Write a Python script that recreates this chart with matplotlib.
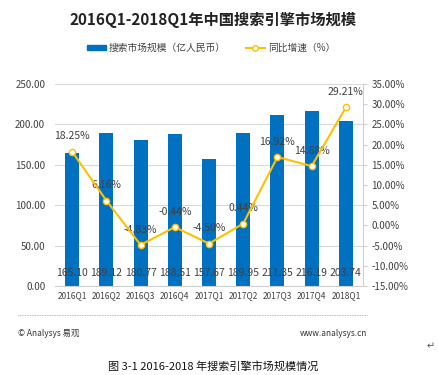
import numpy as np
import matplotlib.pyplot as plt
from matplotlib.lines import Line2D
from matplotlib.patches import Patch

plt.rcParams['font.family'] = ['Noto Sans CJK SC', 'DejaVu Sans']

quarters = ['2016Q1', '2016Q2', '2016Q3', '2016Q4', '2017Q1',
            '2017Q2', '2017Q3', '2017Q4', '2018Q1']
market = [165.10, 189.12, 180.77, 188.51, 157.67, 189.95, 211.35, 216.19, 203.74]
growth = [18.25, 6.16, -4.83, -0.44, -4.50, 0.44, 16.92, 14.68, 29.21]

W, H = 439, 375
fig = plt.figure(figsize=(W / 100, H / 100), dpi=100)
ax = fig.add_axes([55 / W, 1 - 286 / H, 308 / W, 202 / H])
ax2 = ax.twinx()

blue = '#0070C0'
yellow = '#FFC000'
txt = '#404040'

x = np.arange(len(quarters))
ax.bar(x, market, width=0.41, color=blue, zorder=2)
ax.set_xlim(-0.5, len(quarters) - 0.5)
ax.set_ylim(0, 250)
ax.set_yticks(np.arange(0, 251, 50))
ax.set_yticklabels([f'{v:.2f}' for v in np.arange(0, 251, 50)], fontsize=7, color=txt)
ax.set_xticks(x)
ax.set_xticklabels(quarters, fontsize=6, color=txt)
ax.grid(axis='y', color='#d9d9d9', lw=0.8, zorder=0)
ax.tick_params(axis='both', length=0, pad=4)
ax.tick_params(axis='y', pad=7)
for s in ['top', 'left', 'right']:
    ax.spines[s].set_visible(False)
ax.spines['bottom'].set_color('#d0d0d0')
for xi, v in zip(x, market):
    ax.text(xi, 16, f'{v:.2f}', ha='center', va='center', fontsize=7.5, color=txt, zorder=3)

ax2.plot(x, growth, color=yellow, lw=1.5, marker='o', ms=4.5,
         mfc='white', mec=yellow, mew=1, zorder=4)
ax2.set_ylim(-15, 35)
ticks2 = np.arange(-15, 36, 5)
ax2.set_yticks(ticks2)
ax2.set_yticklabels([f'{v:.2f}%' for v in ticks2], fontsize=7, color=txt)
ax2.tick_params(axis='y', length=3, color='#d0d0d0', pad=3)
for s in ['top', 'left', 'bottom']:
    ax2.spines[s].set_visible(False)
ax2.spines['right'].set_color('#d0d0d0')
for xi, g in zip(x, growth):
    ax2.annotate(f'{g:.2f}%', (xi, g), xytext=(0, 11), textcoords='offset points',
                 ha='center', va='center', fontsize=7.5, color=txt)

fig.text(213 / W, 1 - 20 / H, '2016Q1-2018Q1年中国搜索引擎市场规模',
         ha='center', va='center', fontsize=11, fontweight='bold', color='#222222')

handles = [Patch(color=blue),
           Line2D([], [], color=yellow, lw=1.5, marker='o', ms=4, mfc='white', mec=yellow)]
fig.legend(handles, ['搜索市场规模（亿人民币）', '同比增速（%）'], loc='center',
           bbox_to_anchor=(211 / W, 1 - 48 / H), ncol=2, frameon=False,
           fontsize=7, handlelength=2.0, handleheight=0.5, handletextpad=0.3,
           columnspacing=2.0, labelcolor=txt)

fig.add_artist(Line2D([18 / W, 367 / W], [1 - 315 / H, 1 - 315 / H],
                      color='#a0a0a0', lw=0.6, ls=(0, (1, 1))))
fig.text(18 / W, 1 - 333 / H, '© Analysys 易观', fontsize=6, color='#333333', va='center')
fig.text(367 / W, 1 - 333 / H, 'www.analysys.cn', fontsize=6, color='#333333',
         va='center', ha='right')
fig.text(427 / W, 1 - 346 / H, '↵', fontsize=7, color='#555555', va='center',
         family='DejaVu Sans')
fig.text(213 / W, 1 - 366 / H, '图 3-1 2016-2018 年搜索引擎市场规模情况', fontsize=8,
         color='#111111', ha='center', va='center')

fig.savefig('out.png', dpi=100)
